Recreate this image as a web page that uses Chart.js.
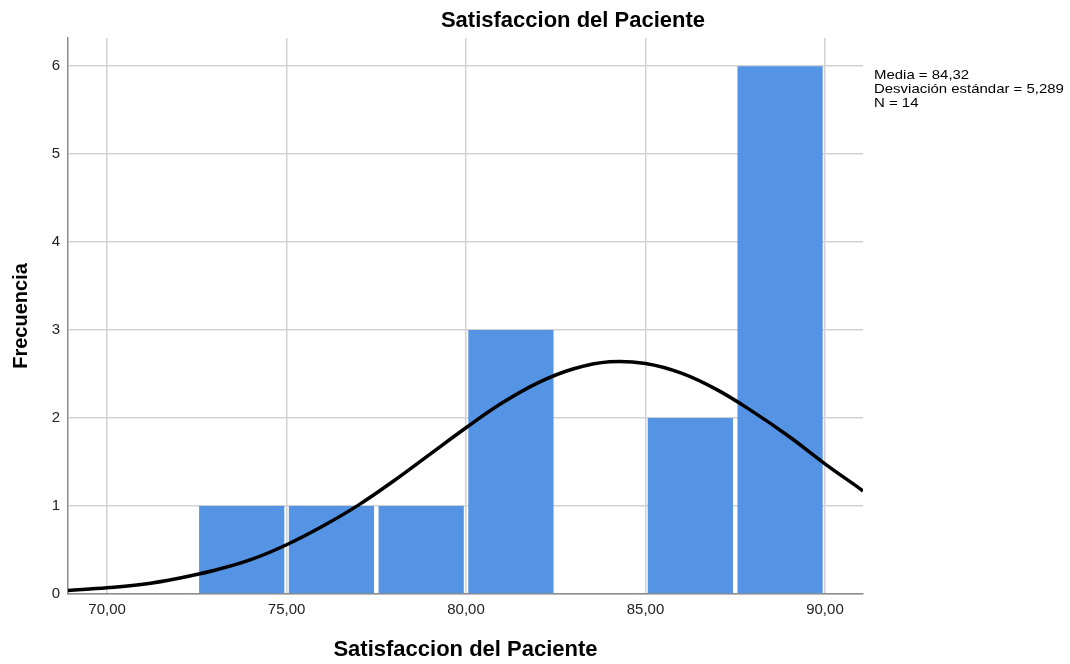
<!DOCTYPE html>
<html>
<head>
<meta charset="utf-8">
<script src="https://cdn.jsdelivr.net/npm/chart.js@4.4.1/dist/chart.umd.min.js"></script>
<style>
  html, body { margin: 0; padding: 0; background: #fff; }
  #wrap { width: 1070px; height: 664px; }
</style>
</head>
<body>
<div id="wrap"><canvas id="c" width="1070" height="664"></canvas></div>
<script>
// ---- Data ----
const binCenters = [73.75, 76.25, 78.75, 81.25, 83.75, 86.25, 88.75];
const frequencies = [1, 1, 1, 3, 0, 2, 6];
const curveX = [68.91, 70, 71, 72, 73, 74, 75, 76, 77, 78, 79, 80, 81, 82, 83, 84, 85, 86, 87, 88, 89, 90, 91, 91.06];
const curveY = [0.04, 0.07, 0.11, 0.18, 0.27, 0.39, 0.56, 0.77, 1.01, 1.29, 1.59, 1.89, 2.17, 2.40, 2.56, 2.64, 2.62, 2.51, 2.32, 2.07, 1.79, 1.48, 1.19, 1.17];
const xTicks = [70, 75, 80, 85, 90];
const yTicks = [0, 1, 2, 3, 4, 5, 6];
const chartTitle = 'Satisfaccion del Paciente';
const xTitle = 'Satisfaccion del Paciente';
const yTitle = 'Frecuencia';
const statsLines = ['Media = 84,32', 'Desviación estándar = 5,289', 'N = 14'];

const FONT = "'Liberation Sans', Arial, sans-serif";

const textPlugin = {
  id: 'texts',
  afterDraw(chart) {
    const ctx = chart.ctx;
    ctx.save();
    ctx.fillStyle = '#000';
    ctx.font = 'bold 22px ' + FONT;
    ctx.textAlign = 'center';
    ctx.textBaseline = 'middle';
    ctx.fillText(chartTitle, 573, 21);
    ctx.restore();
    ctx.save();
    ctx.fillStyle = '#000';
    ctx.font = '13px ' + FONT;
    ctx.textAlign = 'left';
    ctx.textBaseline = 'middle';
    ctx.translate(874, 0);
    ctx.scale(1.15, 1);
    statsLines.forEach((t, i) => ctx.fillText(t, 0, 75 + i * 14));
    ctx.restore();
  }
};

new Chart(document.getElementById('c'), {
  type: 'bar',
  data: {
    datasets: [
      {
        type: 'line',
        data: curveX.map((x, i) => ({ x: x, y: curveY[i] })),
        borderColor: '#000',
        borderWidth: 3.5,
        pointRadius: 0,
        tension: 0.4,
        fill: false,
        order: 0
      },
      {
        type: 'bar',
        data: binCenters.map((x, i) => ({ x: x, y: frequencies[i] })),
        backgroundColor: '#5594e4',
        borderWidth: 0,
        barPercentage: 0.95,
        categoryPercentage: 1,
        order: 1
      }
    ]
  },
  options: {
    responsive: false,
    devicePixelRatio: 1,
    animation: false,
    layout: { padding: { left: 0, right: 207, top: 38, bottom: 0 } },
    plugins: { legend: { display: false }, title: { display: false }, tooltip: { enabled: false } },
    scales: {
      x: {
        type: 'linear',
        offset: false,
        min: 68.91,
        max: 91.06,
        afterBuildTicks: s => { s.ticks = xTicks.map(v => ({ value: v })); },
        afterFit: s => { s.height = 70; },
        grid: { color: '#d2d2d2', lineWidth: 1.5, drawTicks: false, offset: false },
        border: { display: true, color: '#8c8c8c', width: 1.5 },
        ticks: {
          padding: 7,
          color: '#222',
          font: { family: FONT, size: 15 },
          callback: v => v.toFixed(2).replace('.', ',')
        },
        title: {
          display: true,
          text: xTitle,
          color: '#000',
          font: { family: FONT, size: 22, weight: 'bold' },
          padding: { top: 0, bottom: 1 }
        }
      },
      y: {
        type: 'linear',
        min: 0,
        max: 6.32,
        afterBuildTicks: s => { s.ticks = yTicks.map(v => ({ value: v })); },
        afterFit: s => { s.width = 68; },
        grid: { color: '#d2d2d2', lineWidth: 1.5, drawTicks: false },
        border: { display: true, color: '#8c8c8c', width: 1.5 },
        ticks: {
          padding: 8,
          color: '#222',
          font: { family: FONT, size: 15 },
          callback: v => String(v)
        },
        title: {
          display: true,
          text: yTitle,
          color: '#000',
          font: { family: FONT, size: 20, weight: 'bold' },
          padding: { top: 9, bottom: 0 }
        }
      }
    }
  },
  plugins: [textPlugin]
});
</script>
</body>
</html>
